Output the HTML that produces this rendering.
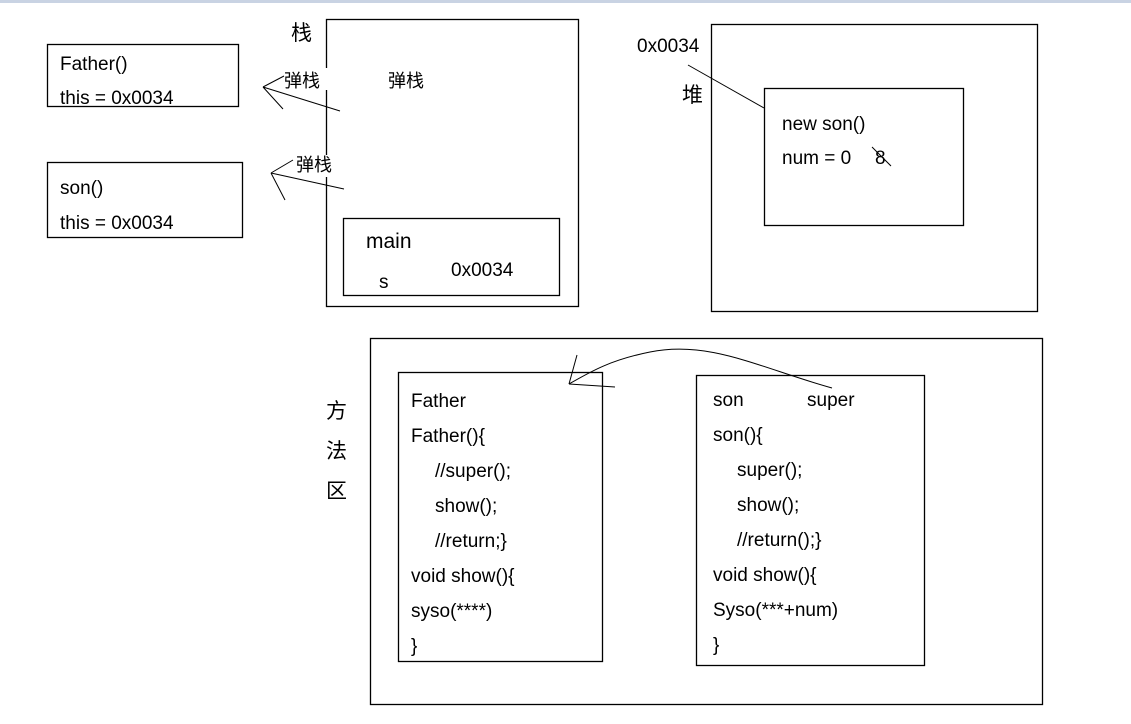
<!DOCTYPE html>
<html><head><meta charset="utf-8"><style>
html,body{margin:0;padding:0;background:#fff;}
svg{display:block;}
text{font-family:"Liberation Sans","Noto Sans CJK SC",sans-serif;font-size:19px;fill:#000;}
.s{font-size:18px;}
</style></head><body>
<svg width="1131" height="724" viewBox="0 0 1131 724" xmlns="http://www.w3.org/2000/svg">
<rect x="0" y="0" width="1131" height="3" fill="#c9d3e3"/>
<g fill="none" stroke="#000" stroke-width="1.3">
<rect x="47.5" y="44.5" width="191" height="62"/>
<rect x="47.5" y="162.5" width="195" height="75"/>
<rect x="326.5" y="19.5" width="252" height="287"/>
<rect x="343.5" y="218.5" width="216" height="77"/>
<rect x="711.5" y="24.5" width="326" height="287"/>
<rect x="764.5" y="88.5" width="199" height="137"/>
<rect x="370.5" y="338.5" width="672" height="366"/>
<rect x="398.5" y="372.5" width="204" height="289"/>
<rect x="696.5" y="375.5" width="228" height="290"/>
</g>
<rect x="322" y="68" width="9" height="22" fill="#fff"/>
<rect x="322" y="155" width="9" height="22" fill="#fff"/>
<g fill="none" stroke="#000" stroke-width="1">
<path d="M263 87 L284 76 M263 87 L283 109 M263 87 L340 111"/>
<path d="M271 173 L293 160 M271 173 L285 200 M271 173 L344 189"/>
<path d="M688 65 L764 108"/>
<path d="M872 147 L891 166"/>
<path d="M832 388 C760 368 710 340 650 352 C610 360 590 372 569 384"/>
<path d="M569 384 L577 355 M569 384 L615 387"/>
</g>
<text x="60" y="70">Father()</text>
<text x="60" y="104">this = 0x0034</text>
<text x="60" y="194">son()</text>
<text x="60" y="229">this = 0x0034</text>
<text x="291" y="40" style="font-size:21px">栈</text>
<text x="284" y="87" class="s">弹栈</text>
<text x="388" y="87" class="s">弹栈</text>
<text x="296" y="171" class="s">弹栈</text>
<text x="366" y="248" style="font-size:21px">main</text>
<text x="379" y="288">s</text>
<text x="451" y="276">0x0034</text>
<text x="637" y="52">0x0034</text>
<text x="682" y="102" style="font-size:21px">堆</text>
<text x="782" y="130">new son()</text>
<text x="782" y="164">num = 0</text>
<text x="875" y="164">8</text>
<text x="326" y="418" style="font-size:21px">方</text>
<text x="326" y="458" style="font-size:21px">法</text>
<text x="326" y="498" style="font-size:21px">区</text>
<text x="411" y="407">Father</text>
<text x="411" y="442">Father(){</text>
<text x="435" y="477">//super();</text>
<text x="435" y="512">show();</text>
<text x="435" y="547">//return;}</text>
<text x="411" y="582">void show(){</text>
<text x="411" y="617">syso(****)</text>
<text x="411" y="652">}</text>
<text x="713" y="406">son</text>
<text x="807" y="406">super</text>
<text x="713" y="441">son(){</text>
<text x="737" y="476">super();</text>
<text x="737" y="511">show();</text>
<text x="737" y="546">//return();}</text>
<text x="713" y="581">void show(){</text>
<text x="713" y="616">Syso(***+num)</text>
<text x="713" y="651">}</text>
</svg>
</body></html>
